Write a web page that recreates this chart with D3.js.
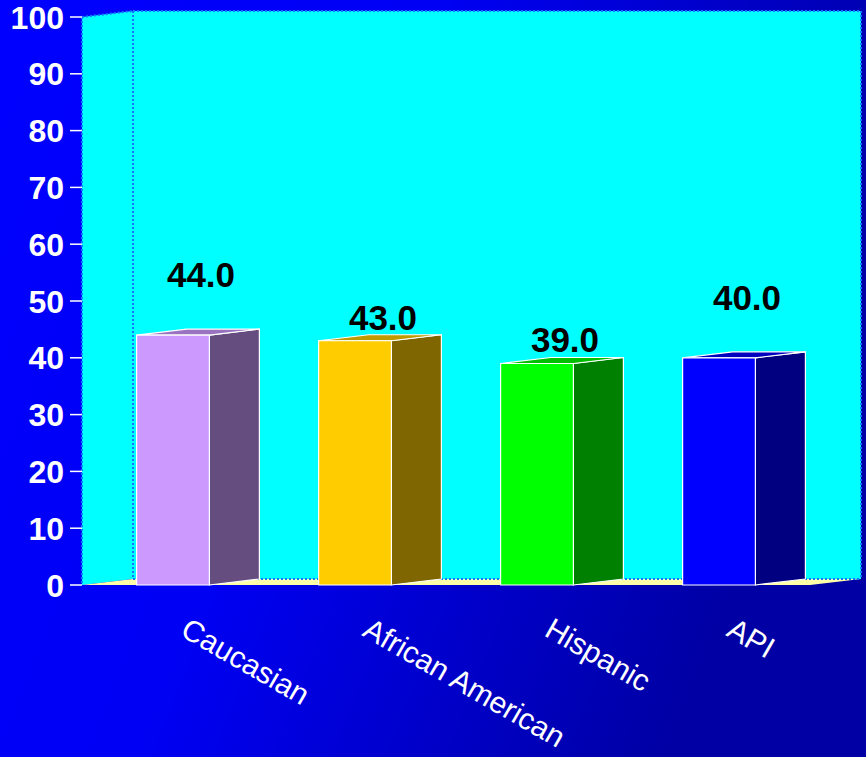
<!DOCTYPE html>
<html>
<head>
<meta charset="utf-8">
<script src="https://cdn.jsdelivr.net/npm/d3@7/dist/d3.min.js"></script>
<style>
  html, body { margin: 0; padding: 0; background: #0000ff; }
  svg { display: block; }
</style>
</head>
<body>
<svg id="chart" width="866" height="757"></svg>
<script>
// ---- data ----
const categories = ["Caucasian", "African American", "Hispanic", "API"];
const values = [44.0, 43.0, 39.0, 40.0];
const yTicks = [0, 10, 20, 30, 40, 50, 60, 70, 80, 90, 100];
const frontColors = ["#cc99ff", "#ffcc00", "#00ff00", "#0000ff"];

// ---- layout ----
const W = 866, H = 757;
const plot = { left: 82, right: 810, top: 17, bottom: 585 };
const depth = { dx: 51, dy: -6 };
const barDepth = { dx: 50, dy: -6 };

const svg = d3.select("#chart");

const defs = svg.append("defs");
const grad = defs.append("linearGradient")
  .attr("id", "bg").attr("x1", 0).attr("y1", 0).attr("x2", 1).attr("y2", 0.35);
grad.append("stop").attr("offset", "0").attr("stop-color", "#0000ff");
grad.append("stop").attr("offset", "0.45").attr("stop-color", "#0000f4");
grad.append("stop").attr("offset", "1").attr("stop-color", "#0000a4");

svg.append("rect").attr("width", W).attr("height", H).attr("fill", "url(#bg)");

const y = d3.scaleLinear().domain([0, 100]).range([plot.bottom, plot.top]);
const x = d3.scaleBand().domain(categories).range([plot.left, plot.right])
  .paddingInner(0.6).paddingOuter(0.3);

const poly = pts => "M" + pts.map(p => p.join(",")).join("L") + "Z";

// back wall
const bx0 = plot.left + depth.dx, bx1 = plot.right + depth.dx;
const by0 = y(100) + depth.dy, by1 = y(0) + depth.dy;
svg.append("rect").attr("x", bx0).attr("y", by0).attr("width", bx1 - bx0).attr("height", by1 - by0)
  .attr("fill", "#00ffff");
// left wall
svg.append("path").attr("d", poly([[plot.left, y(100)], [bx0, by0], [bx0, by1], [plot.left, y(0)]]))
  .attr("fill", "#00ffff");
// floor
svg.append("path").attr("d", poly([[plot.left, y(0)], [bx0, by1], [bx1, by1], [plot.right, y(0)]]))
  .attr("fill", "#ffffa8");

// dotted wall edges
const dotted = { stroke: "#1477ff", "stroke-width": 2, "stroke-dasharray": "2,2" };
const edge = (x1, y1, x2, y2) => {
  const l = svg.append("line").attr("x1", x1).attr("y1", y1).attr("x2", x2).attr("y2", y2);
  Object.entries(dotted).forEach(([k, v]) => l.attr(k, v));
};
edge(bx0, by0, bx1, by0);
edge(bx1, by0, bx1, by1);
edge(bx0, by0, bx0, by1);
edge(bx0, by1, bx1, by1);
edge(plot.left, y(100), plot.left, y(0));
edge(plot.left, y(100), bx0, by0);

// y axis ticks and labels
const axis = svg.append("g");
axis.selectAll("line.tick").data(yTicks).join("line")
  .attr("x1", plot.left - 12).attr("x2", plot.left)
  .attr("y1", d => y(d)).attr("y2", d => y(d))
  .attr("stroke", "#ffffff").attr("stroke-width", 1.5);
axis.selectAll("text").data(yTicks).join("text")
  .attr("x", plot.left - 18).attr("y", d => y(d))
  .attr("dy", "0.36em")
  .attr("text-anchor", "end")
  .attr("fill", "#ffffff")
  .attr("font-family", "Liberation Sans, Arial, sans-serif")
  .attr("font-weight", "bold")
  .attr("font-size", 32)
  .text(d => d);

// bars
const data = categories.map((c, i) => ({ c, v: values[i], color: frontColors[i], i }));
const bars = svg.append("g").selectAll("g").data(data).join("g");
bars.each(function (d) {
  const g = d3.select(this);
  const x0 = x(d.c), x1 = x0 + x.bandwidth();
  const yt = y(d.v), yb = y(0);
  const base = d3.color(d.color);
  const side = d3.rgb(base.r * 0.5, base.g * 0.5, base.b * 0.5);
  const top = d3.rgb(base.r * 0.75, base.g * 0.75, base.b * 0.75);
  const st = { stroke: "#ffffff", "stroke-width": 1.2, "stroke-linejoin": "round" };
  const add = (pts, fill) => {
    const p = g.append("path").attr("d", poly(pts)).attr("fill", fill);
    Object.entries(st).forEach(([k, v]) => p.attr(k, v));
  };
  add([[x1, yt], [x1 + barDepth.dx, yt + barDepth.dy], [x1 + barDepth.dx, yb + barDepth.dy], [x1, yb]], side);
  add([[x0, yt], [x0 + barDepth.dx, yt + barDepth.dy], [x1 + barDepth.dx, yt + barDepth.dy], [x1, yt]], top);
  add([[x0, yt], [x1, yt], [x1, yb], [x0, yb]], d.color);
});

// value labels (staggered like the original)
svg.append("g").selectAll("text").data(data).join("text")
  .attr("x", d => x(d.c) + x.bandwidth() / 2 + 28)
  .attr("y", d => y(d.v) - (d.i % 3 === 0 ? 48 : 11))
  .attr("text-anchor", "middle")
  .attr("fill", "#000000")
  .attr("font-family", "Liberation Sans, Arial, sans-serif")
  .attr("font-weight", "bold")
  .attr("font-size", 35)
  .text(d => d.v.toFixed(1));

// category labels
svg.append("g").selectAll("text").data(data).join("text")
  .attr("transform", d => `translate(${x(d.c) + x.bandwidth() / 2 + 6},${635}) rotate(30)`)
  .attr("fill", "#ffffff")
  .attr("font-family", "Liberation Sans, Arial, sans-serif")
  .attr("font-size", 30)
  .text(d => d.c);
</script>
</body>
</html>
